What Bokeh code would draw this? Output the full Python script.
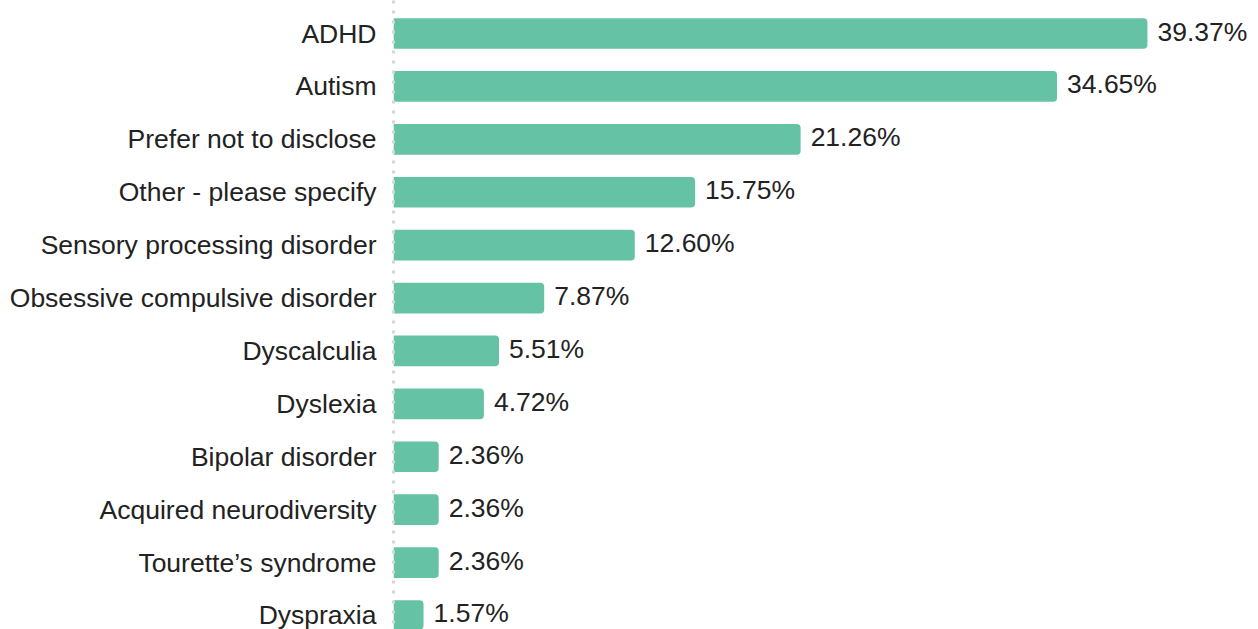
from bokeh.plotting import figure
from bokeh.models import ColumnDataSource, Range1d, FixedTicker
from bokeh.embed import file_html
from bokeh.resources import INLINE
from bokeh.core.properties import value

categories = [
    "ADHD",
    "Autism",
    "Prefer not to disclose",
    "Other - please specify",
    "Sensory processing disorder",
    "Obsessive compulsive disorder",
    "Dyscalculia",
    "Dyslexia",
    "Bipolar disorder",
    "Acquired neurodiversity",
    "Tourette\u2019s syndrome",
    "Dyspraxia",
]
percentages = [39.37, 34.65, 21.26, 15.75, 12.60, 7.87, 5.51, 4.72, 2.36, 2.36, 2.36, 1.57]

positions = list(range(len(categories)))
labels = [f"{v:.2f}%" for v in percentages]

source = ColumnDataSource(dict(y=positions, x=percentages, label=labels, cat=categories))

W, H = 1258, 629
left = 393
px_per_unit_x = 19.15
row = 52.9

p = figure(
    width=W, height=H,
    output_backend="svg", toolbar_location=None,
    x_range=Range1d(0, (W - left) / px_per_unit_x),
    y_range=Range1d(len(categories) - 1 + (H - 615) / row, -33 / row),
    min_border_left=left, min_border_right=0, min_border_top=0, min_border_bottom=0,
)
p.outline_line_color = None
p.background_fill_color = "white"
p.border_fill_color = "white"
p.xgrid.visible = False
p.ygrid.visible = False
p.xaxis.visible = False

p.hbar(y="y", right="x", left=0, height=0.58, source=source,
       fill_color="#66c2a5", line_color=None, border_radius=(0, 4, 4, 0))

p.text(x="x", y="y", text="label", source=source, x_offset=10, y_offset=-2,
       text_baseline="middle", text_align="left",
       text_font=value("Liberation Sans"), text_font_size="26.5px", text_color="#222222")

yaxis = p.yaxis[0]
yaxis.ticker = FixedTicker(ticks=positions)
yaxis.major_label_overrides = {i: c for i, c in zip(positions, categories)}
yaxis.major_label_text_font = "Liberation Sans"
yaxis.major_label_text_font_size = "26.5px"
yaxis.major_label_text_color = "#222222"
yaxis.major_label_standoff = 11
yaxis.major_tick_line_color = None
yaxis.minor_tick_line_color = None
yaxis.axis_line_color = "#d6d6d6"
yaxis.axis_line_width = 3
yaxis.axis_line_dash = "3 7"

open("out.html", "w").write(file_html(p, INLINE))
